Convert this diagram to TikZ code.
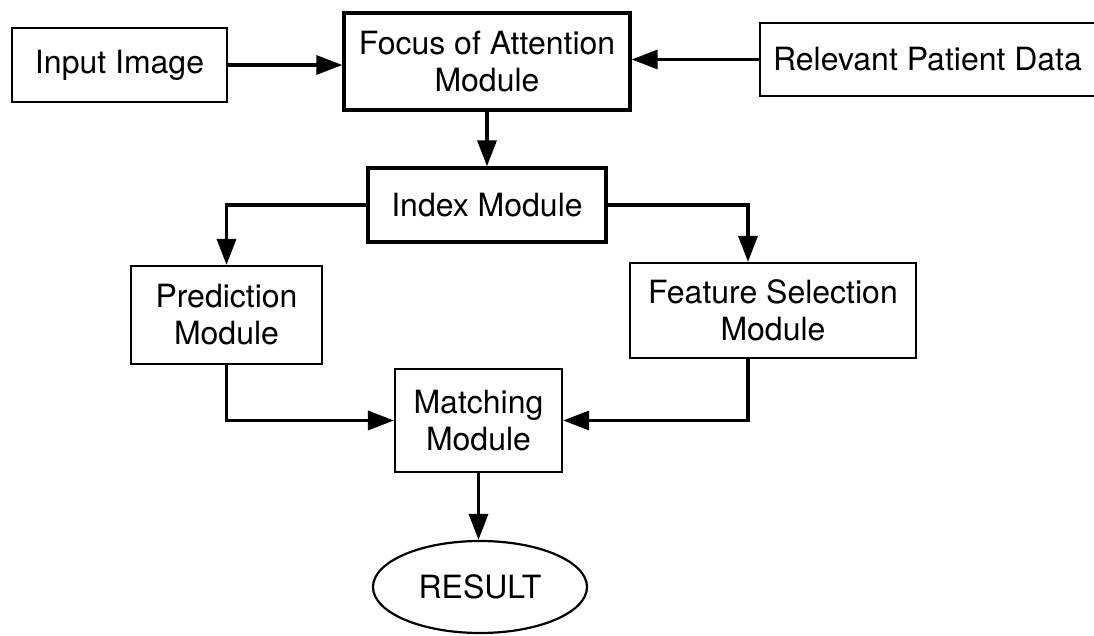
\documentclass[tikz,border=0pt]{standalone}
\usepackage{fontspec}
\setmainfont{TeX Gyre Heros}
\usetikzlibrary{arrows.meta,shapes.geometric}
\begin{document}
\begin{tikzpicture}[x=0.5pt,y=-0.5pt,
  every node/.style={font=\fontsize{16}{18.5}\selectfont, align=center, inner sep=0pt},
  thinbox/.style={draw, line width=1.1pt, rectangle},
  thickbox/.style={draw, line width=1.7pt, rectangle},
  conn/.style={line width=1.7pt, -{Triangle[length=13pt,width=9.5pt]}}]
\useasboundingbox (0,0) rectangle (1094,636);
\node[thinbox, minimum width=107.5pt, minimum height=37pt] (input) at (119.5,65) {Input Image};
\node[thickbox, minimum width=143pt, minimum height=48.5pt] (focus) at (487,61.5) {Focus of Attention\\Module};
\node[thinbox, minimum width=167.5pt, minimum height=36.5pt] (rel) at (927.5,59.5) {Relevant Patient Data};
\node[thickbox, minimum width=119pt, minimum height=37pt] (index) at (487,205) {Index Module};
\node[thinbox, minimum width=95.5pt, minimum height=49pt] (pred) at (226.5,315) {Prediction\\Module};
\node[thinbox, minimum width=143pt, minimum height=47.5pt] (feat) at (773,310.5) {Feature Selection\\Module};
\node[thinbox, minimum width=83.5pt, minimum height=51.5pt] (match) at (478.5,420.5) {Matching\\Module};
\node[draw, ellipse, line width=1.1pt, minimum width=107pt, minimum height=46pt] (res) at (480,587) {RESULT};
\coordinate (fsx) at (748,0);
\draw[conn] (input.east) -- (input.east -| focus.west);
\draw[conn] (rel.west) -- (rel.west -| focus.east);
\draw[conn] (focus.south) -- (index.north);
\draw[conn] (index.west) -| (pred.north);
\draw[conn] (index.east) -| (fsx |- feat.north);
\draw[conn] (pred.south) |- (match.west);
\draw[conn] (fsx |- feat.south) |- (match.east);
\draw[conn] (match.south) -- (match.south |- res.north);
\end{tikzpicture}
\end{document}
